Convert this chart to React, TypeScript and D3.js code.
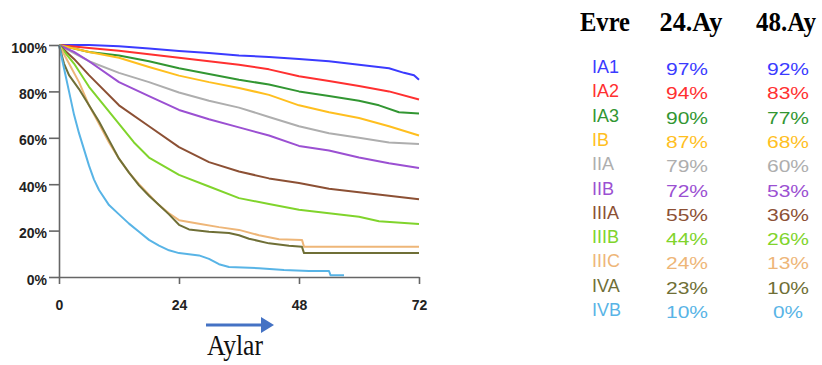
import React, { useEffect, useRef } from 'react';
import * as d3 from 'd3';

// evre etiketleri, renkler ve tablo degerleri
const stages = ['IA1', 'IA2', 'IA3', 'IB', 'IIA', 'IIB', 'IIIA', 'IIIB', 'IIIC', 'IVA', 'IVB'];
const colors = ['#3b3bff', '#ff3030', '#329632', '#ffbf1f', '#aeaeae', '#9b50d2', '#8c5034', '#80d42c', '#eeb678', '#6f6f36', '#58b4e6'];
const at24 = ['97%', '94%', '90%', '87%', '79%', '72%', '55%', '44%', '24%', '23%', '10%'];
const at48 = ['92%', '83%', '77%', '68%', '60%', '53%', '36%', '26%', '13%', '10%', '0%'];
const headers = ['Evre', '24.Ay', '48.Ay'];
const xTicks = [0, 24, 48, 72];
const yTicks = [0, 20, 40, 60, 80, 100];

// [ay, sagkalim %] okunan noktalar
const ia1 = [[0, 100], [6, 100], [12, 99.5], [18, 98.5], [24, 97.4], [30, 96.5], [36, 95.5], [42, 94.8], [48, 94], [54, 93], [60, 91.5], [66, 90], [69, 88], [71, 87], [72, 85]];
const ia2 = [[0, 100], [6, 98.7], [12, 97.5], [18, 96], [24, 94.5], [30, 93], [36, 91.5], [42, 89.5], [48, 86.5], [54, 84.5], [60, 82.3], [66, 80], [72, 76.5]];
const ia3 = [[0, 100], [6, 97], [12, 95.5], [18, 93], [24, 90], [30, 87.5], [36, 85], [42, 83], [48, 80], [54, 78], [60, 76], [64, 74], [68, 71], [72, 70.5]];
const ib = [[0, 100], [6, 97], [12, 94.5], [18, 90.5], [24, 86.8], [30, 84], [36, 81.5], [42, 78.5], [48, 74], [54, 71], [60, 68.5], [66, 65], [72, 61]];
const iia = [[0, 100], [6, 93], [12, 88], [18, 84], [24, 79.5], [30, 76], [36, 73], [42, 69], [48, 65], [54, 62], [60, 60], [66, 58], [72, 57.3]];
const iib = [[0, 100], [3, 97], [6, 93], [12, 84], [18, 78], [24, 72], [30, 68], [36, 64.5], [42, 61], [48, 56.5], [54, 54.5], [60, 51.5], [66, 49], [72, 47]];
const iiia = [[0, 100], [3, 94], [6, 87], [12, 74], [18, 65], [24, 56], [30, 49.5], [36, 45.5], [42, 42.5], [48, 40.5], [54, 38], [60, 36.5], [66, 35], [72, 33.5]];
const iiib = [[0, 100], [3, 92], [6, 82], [9, 74], [12, 66], [15, 58], [18, 51.5], [24, 44], [30, 39], [36, 34], [42, 31.5], [48, 29], [54, 27.5], [60, 26], [64, 24], [72, 22.8]];
const iiic = [[0, 100], [2, 92], [4, 84], [6, 74], [8, 66], [10, 58], [12, 51], [14, 45], [16, 40], [18, 35.5], [20, 31], [22, 27.5], [24, 24.5], [28, 23], [32, 21.5], [36, 20.3], [40, 18], [44, 16.3], [48.6, 16], [49, 13], [72, 13]];
const iva = [[0, 100], [1, 92], [2, 87], [4, 81], [6, 74], [8, 67], [10, 59], [12, 51], [14, 45], [16, 39.5], [18, 35], [20, 31], [22, 27], [24, 22.5], [26, 20.5], [30, 19.5], [34, 19], [36, 18], [38, 16.5], [42, 14.5], [46, 13.5], [48.6, 13], [49, 10.3], [72, 10.3]];
const ivb = [[0, 100], [1, 90], [2, 80], [3, 70], [4, 62], [5, 55], [6, 48], [7, 42], [8, 37.5], [10, 31], [12, 27], [14, 23], [16, 19.5], [18, 16], [20, 13.5], [22, 11.5], [24, 10.3], [28, 9.3], [30, 7.8], [32, 5.5], [34, 4.3], [40, 3.8], [45, 3], [50, 2.6], [54, 2.6], [54.3, 0.8], [57, 0.8]];

const curves = [ia1, ia2, ia3, ib, iia, iib, iiia, iiib, iiic, iva, ivb];

export default function App() {
  const ref = useRef<SVGSVGElement>(null);

  useEffect(() => {
    const svg = d3.select(ref.current);
    svg.selectAll('*').remove();

    const x = d3.scaleLinear().domain([0, 72]).range([59, 419]);
    const y = d3.scaleLinear().domain([0, 100]).range([277, 45]);

    // egriler
    const line = d3.line<number[]>()
      .x(d => x(d[0]))
      .y(d => y(d[1]))
      .curve(d3.curveLinear);

    svg.append('g').selectAll('path').data(curves).join('path')
      .attr('d', d => line(d))
      .attr('fill', 'none')
      .attr('stroke', (d, i) => colors[i])
      .attr('stroke-width', 2)
      .attr('stroke-linejoin', 'round');

    // eksenler
    const yAxis = svg.append('g').attr('transform', `translate(${x(0)},0)`)
      .call(d3.axisLeft(y).tickValues(yTicks).tickSize(10).tickSizeOuter(0).tickPadding(2).tickFormat(d => d + '%'));
    const xAxis = svg.append('g').attr('transform', `translate(0,${y(0)})`)
      .call(d3.axisBottom(x).tickValues(xTicks).tickSize(7).tickSizeOuter(0).tickPadding(16).tickFormat(d => String(d)));

    for (const ax of [yAxis, xAxis]) {
      ax.selectAll('path, line').attr('stroke', '#666').attr('stroke-width', 1.6);
      ax.selectAll('text')
        .attr('fill', '#222')
        .style('font-family', '"Liberation Sans", Arial, sans-serif')
        .style('font-weight', 'bold')
        .style('font-size', '14px');
    }
    yAxis.selectAll('text').attr('dy', '0.5em');

    // ok ve "Aylar"
    svg.append('line')
      .attr('x1', 206).attr('x2', 263).attr('y1', 325).attr('y2', 325)
      .attr('stroke', '#4472c4').attr('stroke-width', 3);
    svg.append('path')
      .attr('d', 'M261,317 L274,325 L261,333 Z')
      .attr('fill', '#4472c4');
    svg.append('text')
      .text('Aylar')
      .attr('x', 207).attr('y', 355)
      .attr('textLength', 56).attr('lengthAdjust', 'spacingAndGlyphs')
      .style('font-family', '"Liberation Serif", "Times New Roman", serif')
      .style('font-size', '29px')
      .attr('fill', '#111');

    // tablo
    const headX = [605, 691, 786];
    const headW = [50, 63, 60];
    svg.append('g').selectAll('text').data(headers).join('text')
      .text(d => d)
      .attr('x', (d, i) => headX[i] - headW[i] / 2)
      .attr('y', 31)
      .attr('textLength', (d, i) => headW[i])
      .attr('lengthAdjust', 'spacingAndGlyphs')
      .style('font-family', '"Liberation Serif", "Times New Roman", serif')
      .style('font-weight', 'bold')
      .style('font-size', '28px')
      .attr('fill', '#000');

    const rowY = (i: number) => 75 + i * 24.3;
    const sans = '"Liberation Sans", Arial, sans-serif';

    svg.append('g').selectAll('text').data(stages).join('text')
      .text(d => d)
      .attr('x', 592)
      .attr('y', (d, i) => rowY(i) - 2)
      .attr('fill', (d, i) => colors[i])
      .style('font-family', sans)
      .style('font-size', '18px');

    const pctCol = (vals: string[], cx: number) => {
      svg.append('g').selectAll('text').data(vals).join('text')
        .text(d => d)
        .attr('x', d => cx - (d.length === 2 ? 15 : 21))
        .attr('y', (d, i) => rowY(i))
        .attr('textLength', d => (d.length === 2 ? 30 : 42))
        .attr('lengthAdjust', 'spacingAndGlyphs')
        .attr('fill', (d, i) => colors[i])
        .style('font-family', sans)
        .style('font-size', '16px');
    };
    pctCol(at24, 687);
    pctCol(at48, 788);
  }, []);

  return (
    <svg ref={ref} width={822} height={365}
      style={{ position: 'absolute', left: 0, top: 0, background: '#fff' }} />
  );
}
